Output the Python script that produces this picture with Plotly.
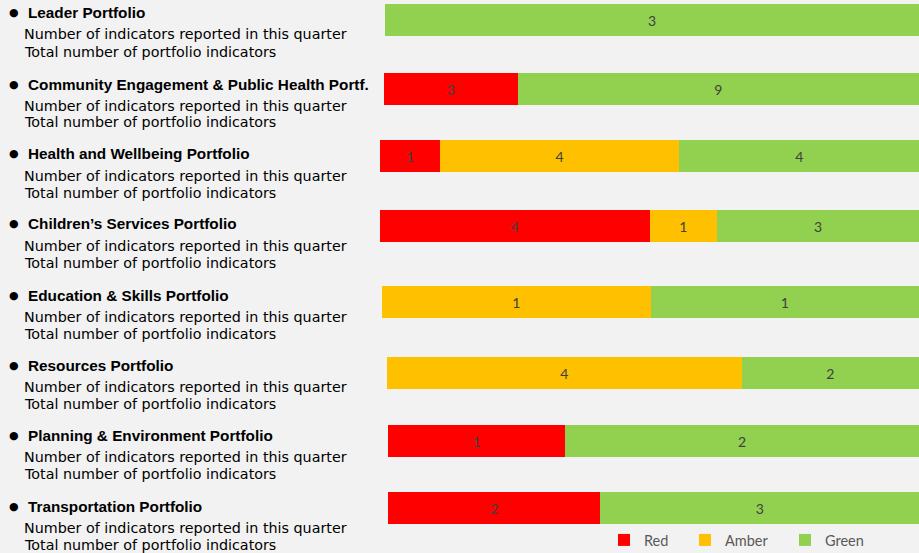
import plotly.graph_objects as go

# ---- data ----
portfolios = [
    "Leader Portfolio",
    "Community Engagement & Public Health Portf.",
    "Health and Wellbeing Portfolio",
    "Children\u2019s Services Portfolio",
    "Education & Skills Portfolio",
    "Resources Portfolio",
    "Planning & Environment Portfolio",
    "Transportation Portfolio",
]
red = [0, 3, 1, 4, 0, 0, 1, 2]
amber = [0, 0, 4, 1, 1, 4, 0, 0]
green = [3, 9, 4, 3, 1, 2, 2, 3]
sub_line1 = "Number of indicators reported in this quarter"
sub_line2 = "Total number of portfolio indicators"
status_names = ["Red", "Amber", "Green"]
status_colors = ["#FF0000", "#FFC000", "#92D050"]

# ---- layout (pixel geometry) ----
W, H = 919, 553
bar_left_px = [385, 384, 380, 380, 382, 387, 388, 388]
bar_center_px = [20, 89, 156, 226, 302, 373, 441, 508]
bar_h = 32
title_px = [13, 84, 154, 224, 295, 365, 435, 506]

BG = "#F2F2F2"
FONT = "Lato"
TITLE_FONT = "Liberation Sans"
SUB_FONT = "DejaVu Sans"

fig = go.Figure()
layout = dict(
    width=W, height=H,
    margin=dict(l=0, r=0, t=0, b=0, autoexpand=False),
    paper_bgcolor=BG, plot_bgcolor=BG,
    barmode="stack",
    showlegend=True,
    font=dict(family=FONT),
)

series = [red, amber, green]
for i, name in enumerate(portfolios):
    total = red[i] + amber[i] + green[i]
    ax = "" if i == 0 else str(i + 1)
    for s, vals in enumerate(series):
        v = vals[i]
        fig.add_trace(go.Bar(
            x=[v / total if v else None],
            y=[name],
            orientation="h",
            width=1,
            name=status_names[s],
            marker=dict(color=status_colors[s], line=dict(width=0)),
            text=[str(v) if v else ""],
            textposition="inside",
            insidetextanchor="middle",
            textangle=0,
            constraintext="none",
            textfont=dict(color="#404040", size=14, family=FONT),
            xaxis="x" + ax, yaxis="y" + ax,
            showlegend=(i == 1 and s != 1) or (i == 2 and s == 1),
            legend=["legend", "legend2", "legend3"][s],
            hoverinfo="skip",
        ))
    yc = bar_center_px[i]
    layout["xaxis" + ax] = dict(domain=[bar_left_px[i] / W, 1], range=[0, 1],
                                visible=False, fixedrange=True,
                                anchor="y" + ax)
    layout["yaxis" + ax] = dict(domain=[1 - (yc + bar_h / 2) / H, 1 - (yc - bar_h / 2) / H],
                                range=[-0.5, 0.5], visible=False,
                                anchor="x" + ax, type="category")

annotations = []
for i, name in enumerate(portfolios):
    ty = title_px[i]
    annotations.append(dict(x=14 / W, y=1 - ty / H, xref="paper", yref="paper",
                            text="\u25CF", showarrow=False, xanchor="center", yanchor="middle",
                            font=dict(size=11, color="#000000", family="DejaVu Sans")))
    annotations.append(dict(x=26 / W, y=1 - ty / H, xref="paper", yref="paper",
                            text="<b>" + name.replace("&", "&amp;") + "</b>", showarrow=False,
                            xanchor="left", yanchor="middle",
                            font=dict(size=15.3, color="#000000", family=TITLE_FONT)))
    annotations.append(dict(x=22 / W, y=1 - (ty + 21.5) / H, xref="paper", yref="paper",
                            text=sub_line1, showarrow=False, xanchor="left", yanchor="middle",
                            font=dict(size=14.3, color="#000000", family=SUB_FONT)))
    annotations.append(dict(x=22 / W, y=1 - (ty + 38.5) / H, xref="paper", yref="paper",
                            text=sub_line2, showarrow=False, xanchor="left", yanchor="middle",
                            font=dict(size=14.3, color="#000000", family=SUB_FONT)))
layout["annotations"] = annotations

leg_x_px = [604, 685, 785]
for k, key in enumerate(["legend", "legend2", "legend3"]):
    layout[key] = dict(x=leg_x_px[k] / W, y=1 - 540 / H, xanchor="left", yanchor="middle",
                       orientation="h", itemwidth=30, bgcolor="rgba(0,0,0,0)",
                       font=dict(size=14.5, color="#595959", family=FONT),
                       itemclick=False, itemdoubleclick=False)

fig.update_layout(**layout)
fig.write_html("out.html")
